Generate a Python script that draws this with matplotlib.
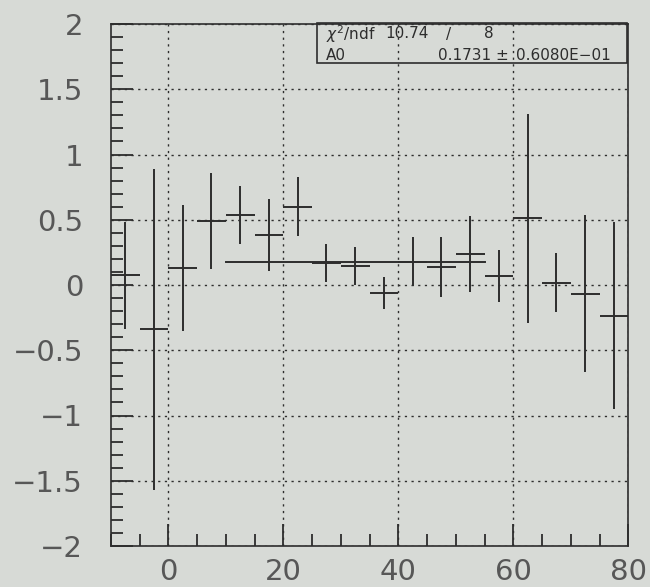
import numpy as np
import matplotlib.pyplot as plt
from matplotlib.ticker import MultipleLocator, FixedLocator
from matplotlib.patches import Rectangle

# bin centres (5 units wide) and fitted residual values
x_centres = [-7.5, -2.5, 2.5, 7.5, 12.5, 17.5, 22.5, 27.5, 32.5,
             37.5, 42.5, 47.5, 52.5, 57.5, 62.5, 67.5, 72.5, 77.5]
y_values = [0.074, -0.34, 0.13, 0.49, 0.537, 0.383, 0.601, 0.166, 0.148,
            -0.064, 0.179, 0.136, 0.238, 0.071, 0.511, 0.018, -0.066, -0.236]
y_errors = [0.41, 1.23, 0.48, 0.365, 0.225, 0.274, 0.228, 0.145, 0.146,
            0.122, 0.19, 0.228, 0.29, 0.2, 0.8, 0.226, 0.6, 0.715]
bin_half_width = 2.5

# constant fit A0 over [10, 55]
fit_range = [10, 55]
fit_A0 = 0.1731
fit_A0_err = 0.06080
fit_chi2 = 10.74
fit_ndf = 8

x_ticks = [0, 20, 40, 60, 80]
x_tick_labels = ["0", "20", "40", "60", "80"]
y_ticks = [-2, -1.5, -1, -0.5, 0, 0.5, 1, 1.5, 2]
y_tick_labels = ["\u22122", "\u22121.5", "\u22121", "\u22120.5", "0", "0.5", "1", "1.5", "2"]

W, H = 650, 587
bg = "#d7dad6"
ink = "#2d2d2d"
label_col = "#575757"

plt.rcParams['font.family'] = ['DejaVu Sans']

fig = plt.figure(figsize=(W / 100, H / 100), dpi=100, facecolor=bg)
ax = fig.add_axes([110.8 / W, 1 - 546 / H, (628.3 - 110.8) / W, (546 - 24) / H])
ax.set_facecolor(bg)

ax.set_xlim(-10, 80)
ax.set_ylim(-2, 2)

# dotted grid on the major divisions
ax.xaxis.set_major_locator(FixedLocator(x_ticks))
ax.yaxis.set_major_locator(FixedLocator(y_ticks))
ax.xaxis.set_minor_locator(MultipleLocator(5))
ax.yaxis.set_minor_locator(MultipleLocator(0.1))
ax.grid(True, which='major', color=ink, linestyle=(0, (1.6, 3.2)), linewidth=1.0)
ax.set_axisbelow(True)

ax.set_xticklabels(x_tick_labels)
ax.set_yticklabels(y_tick_labels)
ax.tick_params(which='both', direction='in', top=False, right=False,
               color=ink, width=1.3)
ax.tick_params(which='major', length=16, labelsize=21, labelcolor=label_col)
ax.tick_params(axis='y', which='major', pad=20)
ax.tick_params(axis='x', which='major', pad=9)
ax.tick_params(which='minor', length=8.5)

for sp in ax.spines.values():
    sp.set_color(ink)
    sp.set_linewidth(1.2)

# data points: horizontal bar = bin width, vertical bar = error
ax.errorbar(x_centres, y_values, xerr=bin_half_width, yerr=y_errors,
            fmt='none', ecolor=ink, elinewidth=1.4, capsize=0, zorder=3)

# fitted constant
ax.plot(fit_range, [fit_A0, fit_A0], color=ink, linewidth=1.4, zorder=3)

# statistics box (unfilled, grid shows through)
def px(x, y):
    return x / W, 1 - y / H

bx0, by0, bx1, by1 = 317, 22.5, 627, 63
fig.patches.append(Rectangle(px(bx0, by1), (bx1 - bx0) / W, (by1 - by0) / H,
                             transform=fig.transFigure, facecolor='none',
                             edgecolor=ink, linewidth=1.2, zorder=5))

stat_kw = dict(fontsize=11, color=ink, va='center', ha='left', zorder=6)
fig.text(*px(326, 34), r"$\chi^2$/ndf", **stat_kw)
fig.text(*px(385, 34), f"{fit_chi2:.2f}", **stat_kw)
fig.text(*px(446, 34), "/", **stat_kw)
fig.text(*px(484, 34), f"{fit_ndf:d}", **stat_kw)
fig.text(*px(326, 55), "A0", **stat_kw)
fig.text(*px(438, 55), f"{fit_A0:.4f} \u00b1", **stat_kw)
fig.text(*px(516, 55), f"{fit_A0_err * 10:.4f}E\u221201", **stat_kw)

fig.savefig("out.png", dpi=100, facecolor=bg)
